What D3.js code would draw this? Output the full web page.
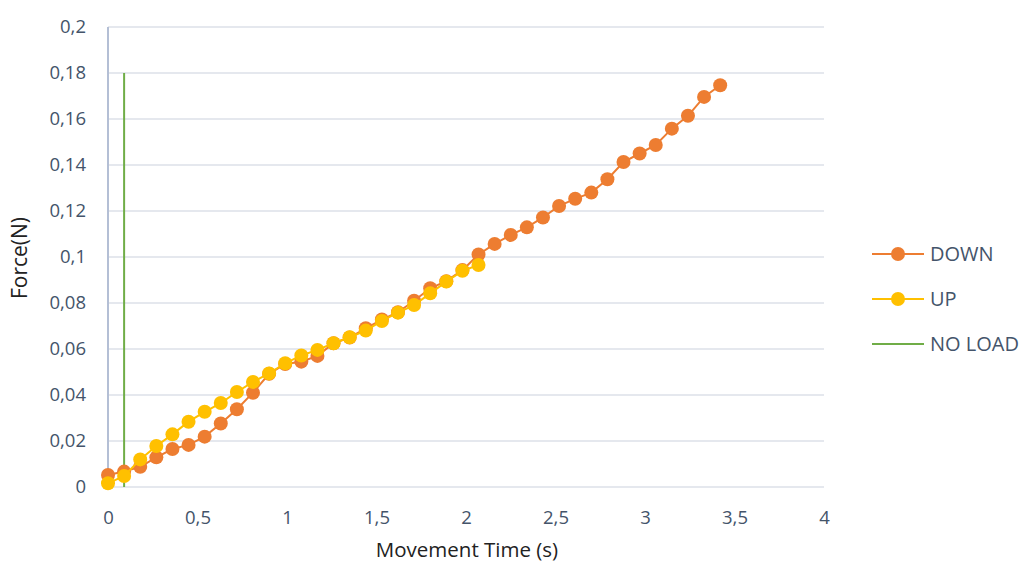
<!DOCTYPE html>
<html>
<head>
<meta charset="utf-8">
<script src="https://cdn.jsdelivr.net/npm/d3@7"></script>
<style>
  body { margin: 0; background: #fff; }
  text { font-family: "Open Sans", sans-serif; }
</style>
</head>
<body>
<div id="chart"></div>
<script>
// time step of the samples (s)
const step = 0.09

// DOWN series (Force N), one value per step
const downForce = [0.0052, 0.0067, 0.0088, 0.0129, 0.0165, 0.0183, 0.0219, 0.0276, 0.0338, 0.0410,
                   0.0492, 0.0535, 0.0545, 0.0570, 0.0625, 0.0650, 0.0690, 0.0728, 0.0760, 0.0810,
                   0.0864, 0.0895, 0.0943, 0.1011, 0.1057, 0.1096, 0.1129, 0.1172, 0.1222, 0.1253,
                   0.1280, 0.1338, 0.1413, 0.1450, 0.1487, 0.1558, 0.1614, 0.1696, 0.1747]

// UP series
const upForce = [0.0016, 0.0048, 0.0120, 0.0178, 0.0229, 0.0284, 0.0327, 0.0365, 0.0413, 0.0457,
                 0.0494, 0.0538, 0.0572, 0.0596, 0.0625, 0.0651, 0.0680, 0.0722, 0.0758, 0.0791,
                 0.0842, 0.0893, 0.0940, 0.0965]

// NO LOAD is a vertical line
const noLoad = [{ t: 0.09, f: 0 }, { t: 0.09, f: 0.18 }]

const xTicks = [0, 0.5, 1, 1.5, 2, 2.5, 3, 3.5, 4]
const yTicks = [0, 0.02, 0.04, 0.06, 0.08, 0.1, 0.12, 0.14, 0.16, 0.18, 0.2]

const seriesNames = ["DOWN", "UP", "NO LOAD"]
const colors = { "DOWN": "#ED7D31", "UP": "#FFC000", "NO LOAD": "#70AD47" }

const width = 1023, height = 564

const svg = d3.select("#chart").append("svg")
    .attr("width", width)
    .attr("height", height)

const x = d3.scaleLinear().domain([0, 4]).range([108, 824])
const y = d3.scaleLinear().domain([0, 0.2]).range([487, 27])

const fmt = d => String(+d.toFixed(2)).replace(".", ",")

// gridlines
svg.append("g")
    .selectAll("line")
    .data(yTicks)
    .enter().append("line")
    .attr("x1", x(0)).attr("x2", x(4))
    .attr("y1", d => y(d)).attr("y2", d => y(d))
    .attr("stroke", "#dde1e8")
    .attr("stroke-width", 1.5)

// y axis line
svg.append("line")
    .attr("x1", x(0)).attr("x2", x(0))
    .attr("y1", y(0.2)).attr("y2", y(0))
    .attr("stroke", "#b4bfd5")
    .attr("stroke-width", 2)

// axes labels
const yAxis = d3.axisLeft(y).tickValues(yTicks).tickFormat(fmt).tickSize(0).tickPadding(22)
svg.append("g").attr("transform", "translate(" + x(0) + ",0)").call(yAxis)
    .call(g => g.select(".domain").remove())
    .selectAll("text").attr("font-size", 18.5).attr("fill", "#44546a").attr("font-family", "Open Sans")

const xAxis = d3.axisBottom(x).tickValues(xTicks).tickFormat(fmt).tickSize(0).tickPadding(24)
svg.append("g").attr("transform", "translate(0," + y(0) + ")").call(xAxis)
    .call(g => g.select(".domain").remove())
    .selectAll("text").attr("font-size", 18.5).attr("fill", "#44546a").attr("font-family", "Open Sans")

svg.append("text")
    .attr("x", 467).attr("y", 557)
    .attr("text-anchor", "middle")
    .attr("font-size", 20.5)
    .attr("fill", "#222")
    .text("Movement Time (s)")

svg.append("text")
    .attr("transform", "translate(27,258) rotate(-90)")
    .attr("text-anchor", "middle")
    .attr("font-size", 21)
    .attr("fill", "#222")
    .text("Force(N)")

const line = d3.line().x(d => x(d.t)).y(d => y(d.f))

const downData = downForce.map((f, i) => ({ t: i * step, f: f }))
const upData = upForce.map((f, i) => ({ t: i * step, f: f }))

// NO LOAD
svg.append("path")
    .datum(noLoad)
    .attr("d", line)
    .attr("fill", "none")
    .attr("stroke", colors["NO LOAD"])
    .attr("stroke-width", 2)

const drawSeries = (data, name) => {
    svg.append("path")
        .datum(data)
        .attr("d", line)
        .attr("fill", "none")
        .attr("stroke", colors[name])
        .attr("stroke-width", 2)
    svg.append("g").selectAll("circle")
        .data(data)
        .enter().append("circle")
        .attr("cx", d => x(d.t))
        .attr("cy", d => y(d.f))
        .attr("r", 7)
        .attr("fill", colors[name])
}
drawSeries(downData, "DOWN")
drawSeries(upData, "UP")

// legend
const legend = svg.append("g").attr("transform", "translate(872,254)")
const item = legend.selectAll("g")
    .data(seriesNames)
    .enter().append("g")
    .attr("transform", (d, i) => "translate(0," + (i * 45) + ")")
item.append("line")
    .attr("x1", 0).attr("x2", 52)
    .attr("stroke", d => colors[d])
    .attr("stroke-width", 2)
item.filter(d => d !== "NO LOAD").append("circle")
    .attr("cx", 26).attr("r", 7)
    .attr("fill", d => colors[d])
item.append("text")
    .attr("x", 58).attr("dy", "0.36em")
    .attr("font-size", 20)
    .attr("fill", "#44546a")
    .text(d => d)
</script>
</body>
</html>
